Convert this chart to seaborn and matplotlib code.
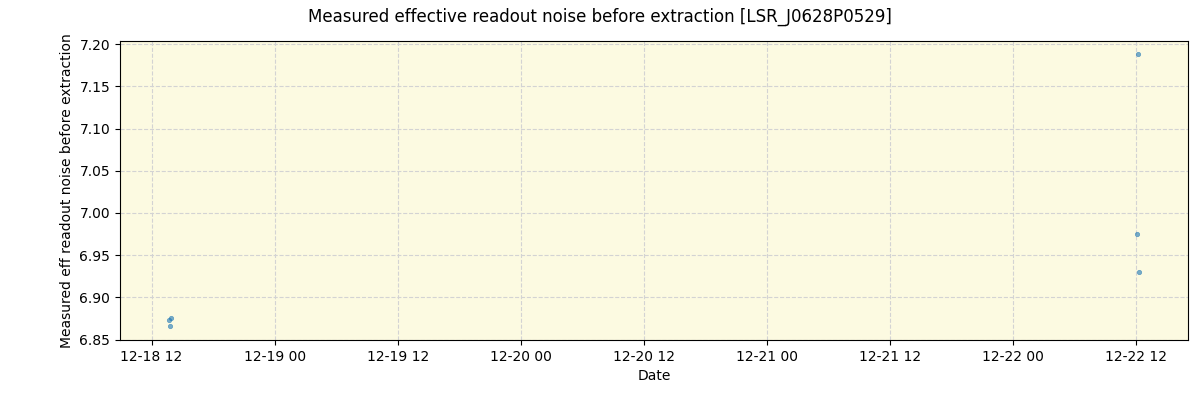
import matplotlib
matplotlib.use("Agg")
import matplotlib.pyplot as plt
import matplotlib.dates as mdates
import seaborn as sns
import pandas as pd

dates = [
    "2024-12-18 13:40", "2024-12-18 13:53", "2024-12-18 13:47",
    "2024-12-22 12:13", "2024-12-22 12:08", "2024-12-22 12:19",
]
noise = [6.8736, 6.8757, 6.8662, 7.1878, 6.9750, 6.9300]

df = pd.DataFrame({"Date": pd.to_datetime(dates), "noise": noise})

fig, ax = plt.subplots(figsize=(12, 4), dpi=100)
sns.scatterplot(data=df, x="Date", y="noise", ax=ax, s=10, color="tab:blue",
                alpha=0.6, edgecolor="tab:blue", linewidth=0.5)
ax.set_facecolor("#fcfae1")
ax.grid(True, linestyle="--", color="lightgray", linewidth=0.8)
ax.set_axisbelow(True)
ax.set_ylim(6.8495, 7.2035)
ax.set_xlim(pd.Timestamp("2024-12-18 08:55"), pd.Timestamp("2024-12-22 17:05"))
ax.xaxis.set_major_locator(mdates.HourLocator(byhour=[0, 12]))
ax.xaxis.set_major_formatter(mdates.DateFormatter("%m-%d %H"))
ax.set_xlabel("Date")
ax.set_ylabel("Measured eff readout noise before extraction")
fig.suptitle("Measured effective readout noise before extraction [LSR_J0628P0529]")
fig.subplots_adjust(left=0.1, right=0.99, top=0.897, bottom=0.15)
fig.savefig("out.png")
